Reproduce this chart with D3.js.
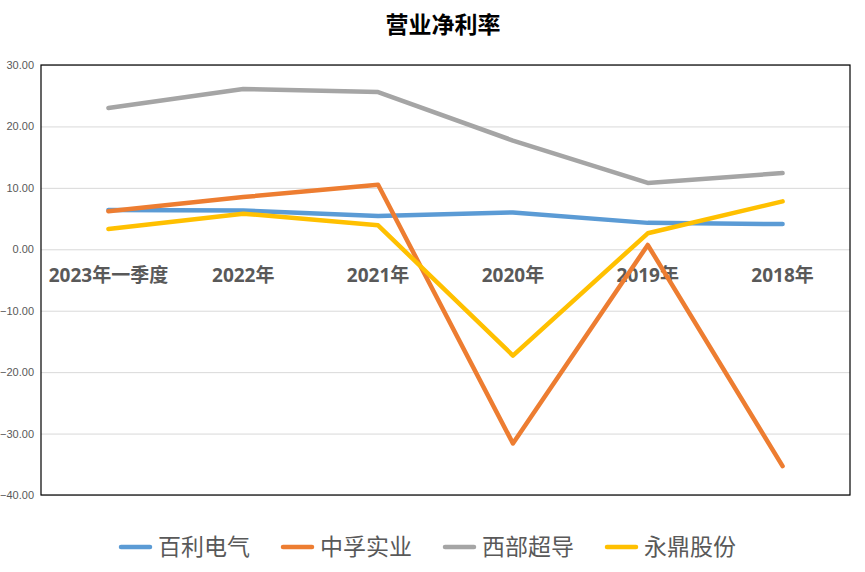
<!DOCTYPE html>
<html>
<head>
<meta charset="utf-8">
<script src="https://cdn.jsdelivr.net/npm/d3@7"></script>
<style>
  body { margin: 0; background: #fff; }
  #chart { width: 865px; height: 572px; }
</style>
</head>
<body>
<div id="chart"></div>
<script>
const title = "营业净利率";
const categories = ["2023年一季度", "2022年", "2021年", "2020年", "2019年", "2018年"];
const seriesNames = ["百利电气", "中孚实业", "西部超导", "永鼎股份"];
const baili = [6.4, 6.3, 5.4, 6.0, 4.3, 4.1];
const zhongfu = [6.2, 8.5, 10.5, -31.6, 0.7, -35.3];
const xibu = [23.0, 26.1, 25.6, 17.7, 10.8, 12.4];
const yongding = [3.3, 5.8, 3.9, -17.3, 2.6, 7.8];
const yTicks = [30, 20, 10, 0, -10, -20, -30, -40];
const colors = ["#5B9BD5", "#ED7D31", "#A5A5A5", "#FFC000"];

const series = [baili, zhongfu, xibu, yongding].map((values, i) => ({
  name: seriesNames[i],
  color: colors[i],
  values: values.map((v, j) => ({ cat: categories[j], value: v })),
}));

const width = 865;
const height = 572;
const margin = { top: 65, right: 15, bottom: 77, left: 41 };
const innerWidth = width - margin.left - margin.right;
const innerHeight = height - margin.top - margin.bottom;

const svg = d3
  .select("#chart")
  .append("svg")
  .attr("width", width)
  .attr("height", height);

svg
  .append("text")
  .attr("x", 443)
  .attr("y", 33)
  .attr("text-anchor", "middle")
  .attr("font-family", "'Noto Sans CJK SC', sans-serif")
  .attr("font-weight", 700)
  .attr("font-size", 23)
  .attr("fill", "#000")
  .text(title);

const g = svg
  .append("g")
  .attr("transform", `translate(${margin.left},${margin.top})`);

// Scales
const x = d3.scaleBand().domain(categories).range([0, innerWidth]).padding(0);
const y = d3.scaleLinear().domain([-40, 30]).range([innerHeight, 0]);

// gridlines
g.append("g")
  .call(d3.axisLeft(y).tickValues(yTicks).tickSize(-innerWidth).tickFormat(""))
  .call((g) => g.selectAll("line").attr("stroke", "#d9d9d9"))
  .call((g) => g.select(".domain").remove());

// y labels
g.append("g")
  .call(d3.axisLeft(y).tickValues(yTicks).tickSize(0).tickPadding(7).tickFormat(d3.format(".2f")))
  .call((g) => g.select(".domain").remove())
  .selectAll("text")
  .attr("font-family", "'Liberation Sans', Arial, sans-serif")
  .attr("font-size", 11)
  .attr("fill", "#595959");

// plot border
g.append("rect")
  .attr("width", innerWidth)
  .attr("height", innerHeight)
  .attr("fill", "none")
  .attr("stroke", "#000")
  .attr("stroke-width", 1.2);

// category labels sit under the zero line
g.append("g")
  .attr("transform", `translate(0,${y(0)})`)
  .call(d3.axisBottom(x).tickSize(0).tickPadding(0))
  .call((g) => g.select(".domain").remove())
  .selectAll("text")
  .attr("dy", 0)
  .attr("y", 33)
  .attr("font-family", "'Open Sans', 'Noto Sans CJK SC', sans-serif")
  .attr("font-weight", 700)
  .attr("font-size", 19)
  .attr("fill", "#595959");

const line = d3
  .line()
  .x((d) => x(d.cat) + x.bandwidth() / 2)
  .y((d) => y(d.value));

g.selectAll("path.series")
  .data(series)
  .join("path")
  .attr("class", "series")
  .attr("fill", "none")
  .attr("stroke", (d) => d.color)
  .attr("stroke-width", 4.5)
  .attr("stroke-linecap", "round")
  .attr("stroke-linejoin", "round")
  .attr("d", (d) => line(d.values));

// Legend
const legend = svg.append("g").attr("transform", `translate(121,547)`);

const item = legend
  .selectAll("g.item")
  .data(series)
  .join("g")
  .attr("class", "item")
  .attr("transform", (d, i) => `translate(${i * 162},0)`);

item
  .append("line")
  .attr("x1", 0)
  .attr("x2", 29)
  .attr("stroke", (d) => d.color)
  .attr("stroke-width", 4.5)
  .attr("stroke-linecap", "round");

item
  .append("text")
  .attr("x", 37)
  .attr("y", 8)
  .attr("font-family", "'Noto Sans CJK SC', sans-serif")
  .attr("font-size", 23)
  .attr("fill", "#595959")
  .text((d) => d.name);
</script>
</body>
</html>
